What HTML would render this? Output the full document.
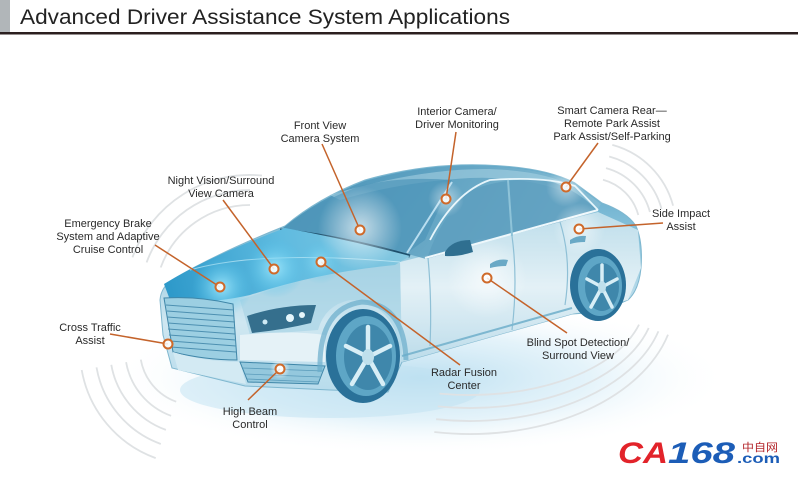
<!DOCTYPE html>
<html>
<head>
<meta charset="utf-8">
<style>
  html,body{margin:0;padding:0;background:#fff;}
  svg{display:block;}
  .lbl{font-family:"Liberation Sans",Arial,sans-serif;font-size:11px;fill:#2a2a2a;text-anchor:middle;}
  .arc{fill:none;stroke:#dfe2e4;stroke-width:1.8;}
  .ld{stroke:#c4632b;stroke-width:1.5;fill:none;}
  .mk{fill:#ffffff;fill-opacity:0.85;stroke:#cf6a2a;stroke-width:2;}
</style>
</head>
<body>
<svg width="800" height="480" viewBox="0 0 800 480" xmlns="http://www.w3.org/2000/svg">
  <defs>
    <radialGradient id="ground" cx="0.5" cy="0.5" r="0.5">
      <stop offset="0" stop-color="#b9def0" stop-opacity="0.95"/>
      <stop offset="0.55" stop-color="#d9eef8" stop-opacity="0.7"/>
      <stop offset="1" stop-color="#ffffff" stop-opacity="0"/>
    </radialGradient>
    <linearGradient id="bodyG" gradientUnits="userSpaceOnUse" x1="0" y1="165" x2="0" y2="390">
      <stop offset="0" stop-color="#5aa5c8"/>
      <stop offset="0.35" stop-color="#8ec6dd"/>
      <stop offset="0.7" stop-color="#cfe7f1"/>
      <stop offset="1" stop-color="#b8dcec"/>
    </linearGradient>
    <linearGradient id="hoodG" gradientUnits="userSpaceOnUse" x1="165" y1="295" x2="410" y2="240">
      <stop offset="0" stop-color="#2c98c9"/>
      <stop offset="0.5" stop-color="#5fbbe0"/>
      <stop offset="1" stop-color="#86c8e0"/>
    </linearGradient>
    <linearGradient id="winG" gradientUnits="userSpaceOnUse" x1="300" y1="170" x2="560" y2="250">
      <stop offset="0" stop-color="#4690b5"/>
      <stop offset="0.6" stop-color="#66a6c4"/>
      <stop offset="1" stop-color="#86bcd3"/>
    </linearGradient>
    <linearGradient id="sideG" gradientUnits="userSpaceOnUse" x1="0" y1="215" x2="0" y2="360">
      <stop offset="0" stop-color="#c2e0ec"/>
      <stop offset="0.5" stop-color="#e6f2f7"/>
      <stop offset="1" stop-color="#bcdcea"/>
    </linearGradient>
    <radialGradient id="glowW" cx="0.5" cy="0.5" r="0.5">
      <stop offset="0" stop-color="#ffffff" stop-opacity="0.95"/>
      <stop offset="1" stop-color="#ffffff" stop-opacity="0"/>
    </radialGradient>
    <radialGradient id="glowC" cx="0.5" cy="0.5" r="0.5">
      <stop offset="0" stop-color="#9fe6fb" stop-opacity="0.95"/>
      <stop offset="1" stop-color="#4fc0e8" stop-opacity="0"/>
    </radialGradient>
  </defs>

  <!-- Title -->
  <rect x="0" y="0" width="10" height="33" fill="#b1b6b9"/>
  <text x="20" y="24" font-family="Liberation Sans, Arial, sans-serif" font-size="21" fill="#222" textLength="490" lengthAdjust="spacingAndGlyphs">Advanced Driver Assistance System Applications</text>
  <rect x="0" y="32" width="798" height="2.5" fill="#2b1f1f"/>

  <!-- ground glow -->
  <ellipse cx="420" cy="378" rx="310" ry="78" fill="url(#ground)"/>
  <ellipse cx="330" cy="390" rx="150" ry="28" fill="#bfe2f2" opacity="0.5"/>

  <!-- sound arcs -->
  <path class="arc" d="M176.2,401.7 A55,55 0 0 1 140.8,359.6"/>
  <path class="arc" d="M171.1,415.8 A70,70 0 0 1 126.1,362.2"/>
  <path class="arc" d="M165.9,429.9 A85,85 0 0 1 111.3,364.8"/>
  <path class="arc" d="M160.8,444 A100,100 0 0 1 96.5,367.4"/>
  <path class="arc" d="M155.7,458.1 A115,115 0 0 1 81.7,370"/>

  <path class="arc" d="M160.7,267.5 A95,95 0 0 1 250,205"/>
  <path class="arc" d="M146.6,262.4 A110,110 0 0 1 250,190"/>
  <path class="arc" d="M132.5,257.3 A125,125 0 0 1 262,175.5"/>

  <path class="arc" d="M603,179.7 A50,50 0 0 1 638.3,215"/>
  <path class="arc" d="M606,168.1 A62,62 0 0 1 649.9,212"/>
  <path class="arc" d="M609.2,156.5 A74,74 0 0 1 661.5,208.8"/>
  <path class="arc" d="M612.3,144.9 A86,86 0 0 1 673.1,205.7"/>

  <path class="arc" d="M639,324.6 A175,95 0 0 1 439.6,393.6"/>
  <path class="arc" d="M648.7,328 A185,108 0 0 1 437.8,406.4"/>
  <path class="arc" d="M658.4,331.3 A195,121 0 0 1 436.1,419.2"/>
  <path class="arc" d="M668,334.7 A205,134 0 0 1 434.3,432"/>

  <!-- Car body silhouette -->
  <path d="M172,368 L163,335 L160,300 Q161,286 175,278 Q220,252 285,226 Q318,198 365,180 Q425,163 485,165 Q545,167 575,183 L602,203 Q627,212 636,226 Q643,242 641,268 Q639,290 628,300 L600,312 L572,314 L402,362 L388,392 L330,390 L245,386 Z" fill="url(#bodyG)" stroke="#7fb7cf" stroke-width="1"/>

  <!-- side doors -->
  <path d="M400,262 L598,212 L638,230 L641,268 L628,300 L572,314 L402,362 Z" fill="url(#sideG)" opacity="0.95"/>
  <!-- front fender -->
  <path d="M240,300 Q320,272 400,262 L402,362 L395,330 Q380,300 350,300 Q325,305 318,330 L250,335 Z" fill="#a9d4e5" opacity="0.7"/>

  <!-- cabin -->
  <path d="M283,228 Q318,199 365,181 Q425,164 485,166 Q545,168 575,184 L601,204 L596,212 L478,244 L426,259 L408,254 Z" fill="url(#winG)" opacity="0.88"/>
  <!-- roof lighter band -->
  <path d="M330,195 Q420,168 490,169 Q545,171 572,186 L560,190 Q520,176 470,178 Q400,182 340,200 Z" fill="#a9d3e4" opacity="0.55"/>
  <!-- side windows -->
  <path d="M428,256 Q440,220 468,192 Q495,179 540,179 Q570,184 597,210 L560,222 Z" fill="#5c9dbe" opacity="0.8"/>
  <path d="M430,240 Q455,192 490,180 Q545,176 575,186 L598,210" fill="none" stroke="#e6f5fb" stroke-width="1.8"/>
  <path d="M425,258 L598,210" stroke="#eef8fc" stroke-width="2" fill="none"/>
  <line x1="512" y1="236" x2="508" y2="180" stroke="#8ec3d8" stroke-width="2"/>
  <!-- windshield -->
  <path d="M283,228 Q315,203 360,186 Q400,176 452,180 L425,240 L407,253 Q350,238 283,228 Z" fill="#4f96b9" opacity="0.7"/>
  <path d="M280,230 Q340,236 410,256" stroke="#1d4f6c" stroke-width="3" fill="none"/>
  <path d="M407,253 L452,182" stroke="#b9def0" stroke-width="2" fill="none"/>

  <!-- hood -->
  <path d="M164,284 Q210,256 285,228 Q350,240 410,256 L395,265 Q320,272 250,295 Q205,305 170,300 Z" fill="url(#hoodG)"/>
  <path d="M190,270 Q260,250 400,262" stroke="#c8ecf8" stroke-width="1" fill="none" opacity="0.7"/>

  <!-- glows -->
  <circle cx="360" cy="228" r="42" fill="url(#glowW)" opacity="0.7"/>
  <circle cx="275" cy="268" r="30" fill="url(#glowC)"/>
  <circle cx="222" cy="287" r="30" fill="url(#glowC)"/>
  <circle cx="320" cy="262" r="22" fill="url(#glowC)" opacity="0.7"/>
  <circle cx="487" cy="278" r="40" fill="url(#glowW)" opacity="0.7"/>
  <circle cx="579" cy="229" r="26" fill="url(#glowW)" opacity="0.6"/>
  <circle cx="446" cy="199" r="18" fill="url(#glowW)" opacity="0.5"/>
  <circle cx="566" cy="187" r="20" fill="url(#glowW)" opacity="0.5"/>

  <!-- door lines & handles -->
  <path d="M428,258 Q432,300 430,346" stroke="#8fc0d6" stroke-width="1.2" fill="none"/>
  <path d="M512,236 Q518,280 512,330" stroke="#8fc0d6" stroke-width="1.2" fill="none"/>
  <path d="M560,222 Q572,260 565,305" stroke="#8fc0d6" stroke-width="1.2" fill="none"/>
  <path d="M490,264 Q498,258 508,260 L506,266 Q498,266 490,268 Z" fill="#6aa9c6"/>
  <path d="M570,240 Q577,235 586,236 L585,242 Q577,242 570,244 Z" fill="#6aa9c6"/>
  <!-- mirror -->
  <path d="M445,252 Q452,240 470,240 L473,252 Q458,257 445,256 Z" fill="#2f6f90"/>
  <!-- sill -->
  <path d="M402,356 L572,308" stroke="#7db7d0" stroke-width="2" fill="none"/>

  <!-- front face -->
  <path d="M164,298 Q200,296 233,304 L237,360 Q205,360 173,352 Z" fill="#9ccfe2" stroke="#3f86a8" stroke-width="1"/>
  <g stroke="#4d90b1" stroke-width="1">
    <line x1="166" y1="305" x2="234" y2="310"/>
    <line x1="167" y1="311" x2="234" y2="316"/>
    <line x1="167" y1="317" x2="235" y2="322"/>
    <line x1="168" y1="323" x2="235" y2="328"/>
    <line x1="168" y1="329" x2="235" y2="334"/>
    <line x1="169" y1="335" x2="236" y2="340"/>
    <line x1="170" y1="341" x2="236" y2="346"/>
    <line x1="171" y1="347" x2="236" y2="352"/>
  </g>
  <path d="M173,352 Q205,362 240,362 L246,384 L178,370 Z" fill="#d3eaf3"/>
  <path d="M240,335 Q290,330 325,335 L325,362 L240,360 Z" fill="#e5f2f7"/>
  <!-- headlight -->
  <path d="M247,316 Q280,305 316,305 L311,323 Q282,330 252,333 Z" fill="#356f8d"/>
  <circle cx="290" cy="318" r="4" fill="#e6f6fb"/>
  <circle cx="302" cy="315" r="3" fill="#e6f6fb"/>
  <circle cx="265" cy="322" r="2.5" fill="#cfeaf4"/>
  <!-- lower intake -->
  <path d="M240,362 L325,366 L318,384 L248,382 Z" fill="#94c8dd" stroke="#3f86a8" stroke-width="1"/>
  <g stroke="#5b9cbb" stroke-width="0.8">
    <line x1="243" y1="368" x2="323" y2="371"/>
    <line x1="245" y1="374" x2="321" y2="377"/>
    <line x1="247" y1="379" x2="319" y2="382"/>
  </g>
  <circle cx="280" cy="369" r="10" fill="url(#glowW)"/>

  <!-- front wheel arch -->
  <path d="M320,372 Q318,308 362,302 Q404,304 406,360" fill="none" stroke="#6aaccb" stroke-width="5" opacity="0.7"/>
  <!-- front wheel -->
  <ellipse cx="363" cy="356" rx="37" ry="47" fill="#2a7199"/>
  <ellipse cx="366" cy="356" rx="30" ry="40" fill="#5ea6c6"/>
  <ellipse cx="368" cy="357" rx="24" ry="33" fill="#3f87ab"/>
  <g stroke="#d7eef6" stroke-width="4.5" stroke-linecap="round">
    <line x1="368" y1="357" x2="368" y2="327"/>
    <line x1="368" y1="357" x2="390" y2="346"/>
    <line x1="368" y1="357" x2="383" y2="384"/>
    <line x1="368" y1="357" x2="352" y2="384"/>
    <line x1="368" y1="357" x2="346" y2="346"/>
  </g>
  <ellipse cx="368" cy="357" rx="6" ry="8" fill="#bfe0ec"/>

  <!-- rear wheel -->
  <ellipse cx="598" cy="285" rx="28" ry="36" fill="#2a7199"/>
  <ellipse cx="600" cy="286" rx="22" ry="30" fill="#5ea6c6"/>
  <ellipse cx="602" cy="287" rx="17" ry="24" fill="#3f87ab"/>
  <g stroke="#d7eef6" stroke-width="3.5" stroke-linecap="round">
    <line x1="602" y1="287" x2="602" y2="265"/>
    <line x1="602" y1="287" x2="617" y2="279"/>
    <line x1="602" y1="287" x2="612" y2="307"/>
    <line x1="602" y1="287" x2="591" y2="307"/>
    <line x1="602" y1="287" x2="587" y2="279"/>
  </g>
  <ellipse cx="602" cy="287" rx="4" ry="6" fill="#bfe0ec"/>

  <!-- leader lines -->
  <line class="ld" x1="322" y1="144" x2="360" y2="230"/>
  <line class="ld" x1="456" y1="132" x2="446" y2="199"/>
  <line class="ld" x1="598" y1="143" x2="566" y2="187"/>
  <line class="ld" x1="223" y1="200" x2="274" y2="269"/>
  <line class="ld" x1="155" y1="245" x2="220" y2="287"/>
  <line class="ld" x1="110" y1="334" x2="168" y2="344"/>
  <line class="ld" x1="248" y1="400" x2="280" y2="369"/>
  <line class="ld" x1="321" y1="262" x2="460" y2="365"/>
  <line class="ld" x1="487" y1="278" x2="567" y2="333"/>
  <line class="ld" x1="579" y1="229" x2="663" y2="223"/>

  <!-- markers -->
  <circle class="mk" cx="360" cy="230" r="4.5"/>
  <circle class="mk" cx="446" cy="199" r="4.5"/>
  <circle class="mk" cx="566" cy="187" r="4.5"/>
  <circle class="mk" cx="274" cy="269" r="4.5"/>
  <circle class="mk" cx="321" cy="262" r="4.5"/>
  <circle class="mk" cx="220" cy="287" r="4.5"/>
  <circle class="mk" cx="168" cy="344" r="4.5"/>
  <circle class="mk" cx="280" cy="369" r="4.5"/>
  <circle class="mk" cx="487" cy="278" r="4.5"/>
  <circle class="mk" cx="579" cy="229" r="4.5"/>

  <!-- labels -->
  <text class="lbl" x="320" y="129">Front View</text>
  <text class="lbl" x="320" y="142">Camera System</text>

  <text class="lbl" x="457" y="115">Interior Camera/</text>
  <text class="lbl" x="457" y="128">Driver Monitoring</text>

  <text class="lbl" x="612" y="114">Smart Camera Rear—</text>
  <text class="lbl" x="612" y="127">Remote Park Assist</text>
  <text class="lbl" x="612" y="140">Park Assist/Self-Parking</text>

  <text class="lbl" x="221" y="184">Night Vision/Surround</text>
  <text class="lbl" x="221" y="197">View Camera</text>

  <text class="lbl" x="108" y="227">Emergency Brake</text>
  <text class="lbl" x="108" y="240">System and Adaptive</text>
  <text class="lbl" x="108" y="253">Cruise Control</text>

  <text class="lbl" x="681" y="217">Side Impact</text>
  <text class="lbl" x="681" y="230">Assist</text>

  <text class="lbl" x="90" y="331">Cross Traffic</text>
  <text class="lbl" x="90" y="344">Assist</text>

  <text class="lbl" x="578" y="346">Blind Spot Detection/</text>
  <text class="lbl" x="578" y="359">Surround View</text>

  <text class="lbl" x="464" y="376">Radar Fusion</text>
  <text class="lbl" x="464" y="389">Center</text>

  <text class="lbl" x="250" y="415">High Beam</text>
  <text class="lbl" x="250" y="428">Control</text>

  <!-- logo -->
  <text x="618" y="463" font-family="Liberation Sans, Arial, sans-serif" font-weight="bold" font-style="italic" font-size="30" fill="#e2232a" textLength="50" lengthAdjust="spacingAndGlyphs">CA</text>
  <text x="668" y="463" font-family="Liberation Sans, Arial, sans-serif" font-weight="bold" font-style="italic" font-size="30" fill="#1c5db7" textLength="67" lengthAdjust="spacingAndGlyphs">168</text>
  <text x="742" y="451" font-family="Liberation Sans, 'Noto Sans CJK SC', sans-serif" font-size="11" fill="#b3262b" textLength="36" lengthAdjust="spacingAndGlyphs">中自网</text>
  <text x="737" y="463" font-family="Liberation Sans, Arial, sans-serif" font-weight="bold" font-size="14" fill="#1c5db7" textLength="43" lengthAdjust="spacingAndGlyphs">.com</text>
</svg>
</body>
</html>
